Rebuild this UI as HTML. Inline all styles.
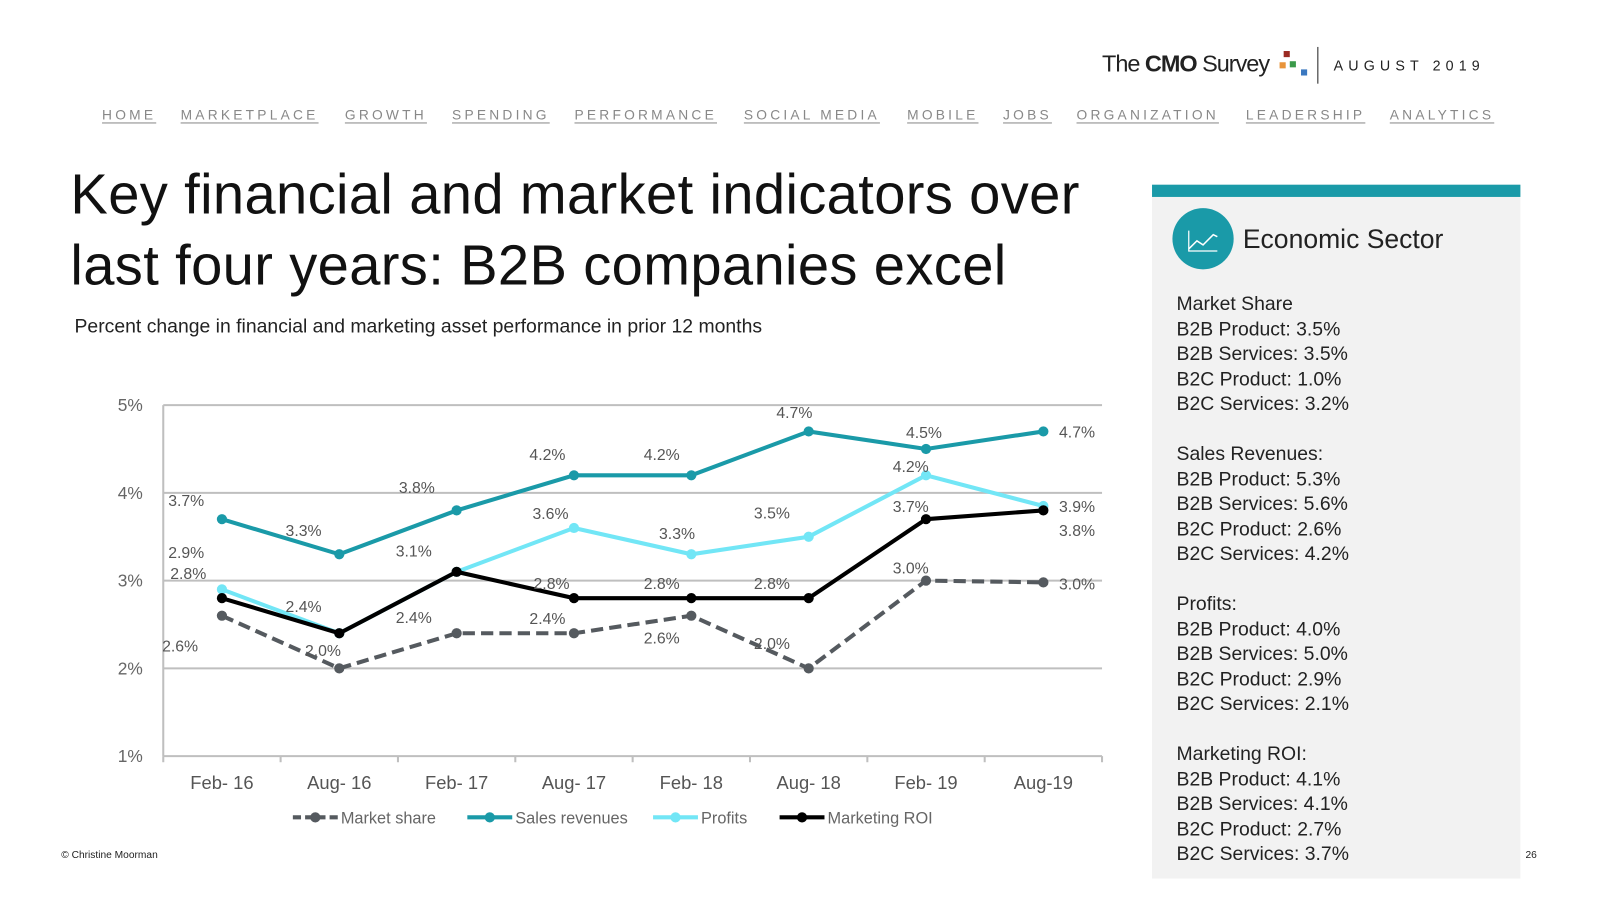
<!DOCTYPE html>
<html><head><meta charset="utf-8">
<style>
html,body{margin:0;padding:0;background:#fff;overflow:hidden;width:1600px;height:900px}
#wrap{position:absolute;left:0;top:0;width:1568px;height:882px;transform:scale(1.0204);transform-origin:0 0;font-family:"Liberation Sans",sans-serif}
.abs{position:absolute;white-space:nowrap}
.nav{top:105px;font-size:13.5px;letter-spacing:3.15px;color:#888;text-decoration:underline;text-underline-offset:3px}
.side{font-size:19px;color:#222;line-height:24.5px}
</style></head><body>
<div id="wrap">
<div class="abs" style="left:1080px;top:49px;font-size:23px;color:#222;letter-spacing:-1px">The <b>CMO</b> Survey</div>
<div class="abs" style="left:1254px;top:50px;width:30px;height:26px">
<div class="abs" style="left:4px;top:0;width:6px;height:6px;background:#9b2a22"></div>
<div class="abs" style="left:0;top:11px;width:6px;height:6px;background:#e8943a"></div>
<div class="abs" style="left:10px;top:10px;width:6px;height:6px;background:#3b9a4a"></div>
<div class="abs" style="left:21px;top:18px;width:6px;height:6px;background:#3a78c0"></div></div>
<div class="abs" style="left:1291px;top:46px;width:1px;height:36px;background:#222"></div>
<div class="abs" style="left:1307px;top:56px;font-size:14px;letter-spacing:5px;color:#222">AUGUST 2019</div>
<div class="abs nav" style="left:100px">HOME</div>
<div class="abs nav" style="left:177px">MARKETPLACE</div>
<div class="abs nav" style="left:338px">GROWTH</div>
<div class="abs nav" style="left:443px">SPENDING</div>
<div class="abs nav" style="left:563px">PERFORMANCE</div>
<div class="abs nav" style="left:729px">SOCIAL MEDIA</div>
<div class="abs nav" style="left:889px">MOBILE</div>
<div class="abs nav" style="left:983px">JOBS</div>
<div class="abs nav" style="left:1055px">ORGANIZATION</div>
<div class="abs nav" style="left:1221px">LEADERSHIP</div>
<div class="abs nav" style="left:1362px">ANALYTICS</div>
<div class="abs" style="left:69px;top:155px;font-size:55px;line-height:70px;color:#111;letter-spacing:0.35px">Key financial and market indicators over<br>last four years: B2B companies excel</div>
<div class="abs" style="left:73px;top:310px;font-size:19px;color:#222">Percent change in financial and marketing asset performance in prior 12 months</div>

<svg class="abs" style="left:0;top:0" width="1568" height="882" id="chart"></svg>

<div class="abs" style="left:1129px;top:181px;width:361px;height:680px;background:#f2f2f2">
<div class="abs" style="left:0;top:0;width:361px;height:12px;background:#1a9aa8"></div>
<div class="abs" style="left:20px;top:23px;width:60px;height:60px;border-radius:50%;background:#1a9aa8">
<svg width="60" height="60"><polyline points="16,40 24,32 30,36 40,26 44,28" fill="none" stroke="#fff" stroke-width="1.5"/><polyline points="16,22 16,42 44,42" fill="none" stroke="#fff" stroke-width="1.2"/></svg></div>
<div class="abs" style="left:89px;top:38px;font-size:26px;color:#222">Economic Sector</div>
<div class="abs side" style="left:24px;top:106px">Market Share<br>B2B Product: 3.5%<br>B2B Services: 3.5%<br>B2C Product: 1.0%<br>B2C Services: 3.2%<br><br>Sales Revenues:<br>B2B Product: 5.3%<br>B2B Services: 5.6%<br>B2C Product: 2.6%<br>B2C Services: 4.2%<br><br>Profits:<br>B2B Product: 4.0%<br>B2B Services: 5.0%<br>B2C Product: 2.9%<br>B2C Services: 2.1%<br><br>Marketing ROI:<br>B2B Product: 4.1%<br>B2B Services: 4.1%<br>B2C Product: 2.7%<br>B2C Services: 3.7%</div>
</div>
<div class="abs" style="left:60px;top:833px;font-size:10px;color:#222">© Christine Moorman</div>
<div class="abs" style="left:1495px;top:833px;font-size:10px;color:#222">26</div>
</div>
<script>
const categories=["Feb- 16","Aug- 16","Feb- 17","Aug- 17","Feb- 18","Aug- 18","Feb- 19","Aug-19"];
const yTicks=[1,2,3,4,5];
const yTickLabels=["1%","2%","3%","4%","5%"];
const marketShare=[2.6,2.0,2.4,2.4,2.6,2.0,3.0,2.98];
const salesRevenues=[3.7,3.3,3.8,4.2,4.2,4.7,4.5,4.7];
const profits=[2.9,2.4,3.1,3.6,3.3,3.5,4.2,3.85];
const marketingROI=[2.8,2.4,3.1,2.8,2.8,2.8,3.7,3.8];
const msLabels=["2.6%","2.0%","2.4%","2.4%","2.6%","2.0%","3.0%","3.0%"];
const srLabels=["3.7%","3.3%","3.8%","4.2%","4.2%","4.7%","4.5%","4.7%"];
const prLabels=["2.9%","2.4%","3.1%","3.6%","3.3%","3.5%","4.2%","3.9%"];
const roiLabels=["2.8%","","","2.8%","2.8%","2.8%","3.7%","3.8%"];

const L=160,R=1080,Y5=397,Y1=741;
const svg=document.getElementById('chart');
const NS='http://www.w3.org/2000/svg';
function x(i){return L+(R-L)/categories.length*(i+0.5);}
function y(v){return Y1-(v-1)*(Y1-Y5)/4;}
function mk(tag,attrs,parent){const e=document.createElementNS(NS,tag);for(const k in attrs)e.setAttribute(k,attrs[k]);(parent||svg).appendChild(e);return e;}
function txt(s,px,py,anchor,size,fill){const t=mk('text',{x:px,y:py,'text-anchor':anchor,'font-size':size,fill:fill,'font-family':'Liberation Sans, sans-serif'});t.textContent=s;return t;}

yTicks.forEach((v,i)=>{
  const g=mk('line',{x1:L,x2:R,y1:y(v),y2:y(v),stroke:'#bfbfbf','stroke-width':2});
  
  
  const t=txt(yTickLabels[i],140,y(v)+6,'end',17,'#666');
  
  
});
const ax=mk('line',{x1:L,x2:L,y1:Y5,y2:Y1,stroke:'#bfbfbf','stroke-width':2});


for(let i=0;i<=categories.length;i++){
  const tx=L+(R-L)/categories.length*i;
  const tk=mk('line',{x1:tx,x2:tx,y1:Y1,y2:Y1+6,stroke:'#bfbfbf','stroke-width':2});
  
  
}
categories.forEach((c,i)=>{
  const t=txt(c,x(i),773,'middle',18,'#555');
  
  
});

function series(vals,color,dash,name){
  const pts=vals.map((v,i)=>x(i)+','+y(v)).join(' ');
  const p=mk('polyline',{points:pts,fill:'none',stroke:color,'stroke-width':4,'stroke-dasharray':dash||'none'});
  
  
  vals.forEach((v,i)=>{
    const c=mk('circle',{cx:x(i),cy:y(v),r:5,fill:color});
    
    
  });
}
series(marketShare,'#555a5f','12 6','market-share');
series(profits,'#72e6f6',null,'profits');
series(marketingROI,'#000',null,'marketing-roi');
series(salesRevenues,'#1a9aa8',null,'sales-revenues');

function labels(vals,labs,dx,dy,name){
  vals.forEach((v,i)=>{
    if(!labs[i])return;
    const t=txt(labs[i],x(i)+dx[i],y(v)+dy[i],'middle',15.5,'#555');
    
    
  });
}
labels(salesRevenues,srLabels,[-35,-35,-39,-26,-29,-14,-2,33],[-13,-18,-17,-15,-15,-13,-11,6],'sales-revenues');
labels(profits,prLabels,[-35,-35,-42,-23,-14,-36,-15,33],[-31,-21,-15,-9,-15,-18,-3,6],'profits');
labels(marketingROI,roiLabels,[-33,0,0,-22,-29,-36,-15,33],[-19,0,0,-9,-9,-9,-7,25],'marketing-roi');
labels(marketShare,msLabels,[-41,-16,-42,-26,-29,-36,-15,33],[35,-12,-10,-9,27,-19,-7,7],'market-share');

const legend=[["Market share","#555a5f","8 4"],["Sales revenues","#1a9aa8",null],["Profits","#72e6f6",null],["Marketing ROI","#000",null]];
const lx=[287,458,640,764];
legend.forEach((e,i)=>{
  const g=mk('g',{});
  
  
  mk('line',{x1:lx[i],x2:lx[i]+44,y1:801,y2:801,stroke:e[1],'stroke-width':4,'stroke-dasharray':e[2]||'none'},g);
  mk('circle',{cx:lx[i]+22,cy:801,r:5,fill:e[1]},g);
  const t=mk('text',{x:lx[i]+47,y:807,'font-size':16,fill:'#666','font-family':'Liberation Sans, sans-serif'},g);
  t.textContent=e[0];
});
</script>
</body></html>
